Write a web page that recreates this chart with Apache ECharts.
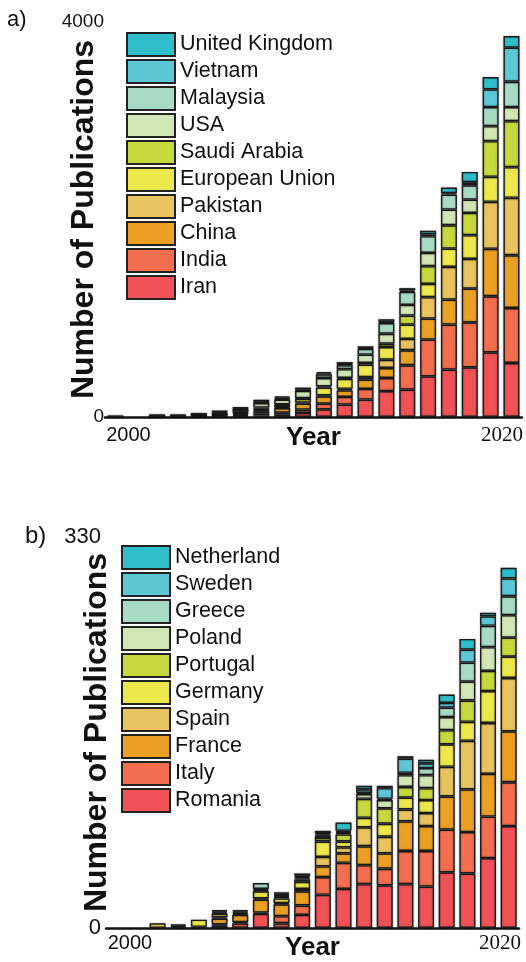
<!DOCTYPE html>
<html><head><meta charset="utf-8">
<script src="https://cdn.jsdelivr.net/npm/echarts@6/dist/echarts.min.js"></script>
<style>html,body{margin:0;padding:0;background:#fff}#c{width:526px;height:962px}</style>
</head><body><div id="c"></div>
<script>
// ---- categories ----
const years = [2001,2002,2003,2004,2005,2006,2007,2008,2009,2010,2011,2012,2013,2014,2015,2016,2017,2018,2019,2020];
const xTickLabels = [2000, 2020];

// ---- panel a) countries ----
const topNames = ['Iran','India','China','Pakistan','European Union','Saudi Arabia','USA','Malaysia','Vietnam','United Kingdom'];
const iran     = [3,0,4,5,7,10,10,17,24,41,78,125,176,263,277,412,480,503,655,547];
const india    = [0,0,4,3,5,7,10,17,20,34,57,78,108,132,247,372,456,456,568,557];
const china    = [3,0,4,4,7,7,14,24,47,61,74,68,95,101,152,213,253,341,480,534];
const pakistan = [0,0,0,0,2,3,7,10,10,10,10,14,24,84,115,216,331,301,476,581];
const eu       = [0,0,2,2,3,7,7,17,20,37,78,101,128,128,145,135,186,240,253,311];
const saudi    = [0,0,0,0,2,3,7,10,7,7,14,10,17,34,91,179,236,226,361,466];
const usa      = [4,0,4,4,5,14,27,47,47,74,84,88,84,101,108,135,159,135,152,142];
const malaysia = [0,0,2,2,3,7,10,17,10,7,37,41,57,108,132,169,152,145,193,257];
const vietnam  = [0,0,0,0,0,0,0,7,10,7,10,7,10,10,14,17,14,30,179,345];
const uk       = [0,0,0,0,0,3,3,3,14,20,14,24,17,30,24,37,57,105,125,118];
const topValues = [iran, india, china, pakistan, eu, saudi, usa, malaysia, vietnam, uk];
const topYTicks = [0, 4000];

// ---- panel b) countries ----
const bottomNames = ['Romania','Italy','France','Spain','Germany','Portugal','Poland','Greece','Sweden','Netherland'];
const romania    = [0,0,0,1,0,2,4,12,4,11,28,33,37,36,37,35,47,46,59,86];
const italy      = [0,0,0,0,0,1,1,1,6,8,15,22,16,14,28,30,36,35,35,37];
const france     = [0,0,0,1,1,5,6,11,10,12,9,8,16,13,25,21,28,36,36,43];
const spain      = [0,0,0,0,0,1,1,1,1,2,8,5,16,14,10,11,25,41,43,45];
const germany    = [0,0,4,1,6,3,1,6,4,6,13,5,8,11,10,11,19,16,27,18];
const portugal   = [0,0,0,0,0,1,1,1,1,2,3,6,16,13,9,10,12,18,17,16];
const poland     = [0,0,0,0,0,1,0,1,1,1,2,1,4,7,10,11,11,16,20,19];
const greece     = [0,0,0,0,0,1,1,5,1,1,1,1,1,1,2,6,8,16,18,16];
const sweden     = [0,0,0,0,0,0,0,0,1,1,1,1,3,9,12,4,4,11,8,15];
const netherland = [0,0,0,0,0,0,0,0,1,2,2,7,3,2,2,3,7,9,3,9];
const bottomValues = [romania, italy, france, spain, germany, portugal, poland, greece, sweden, netherland];
const bottomYTicks = [0, 330];

const palette = ['#F05256','#F26E4E','#EBA024','#E8C35E','#ECE74A','#C5D93C','#D2E6B5','#A8DBC5','#5DC8D5','#2EBFCB'];

const SANS = 'Liberation Sans, Arial, sans-serif';
const SERIF = 'Liberation Serif, Times New Roman, serif';

function labelAxis(grid, min, max, margin, nameGap) {
  return {
    type: 'value', gridIndex: grid, position: 'bottom', min: min, max: max,
    axisLine: { show: true, onZero: true, lineStyle: { color: '#111', width: 2.5 } },
    axisTick: { show: false }, splitLine: { show: false },
    axisLabel: {
      customValues: xTickLabels, margin: margin, color: '#111',
      formatter: v => (v === xTickLabels[0] ? '{a|' + v + '}' : '{b|' + v + '}'),
      rich: { a: { fontFamily: SANS, fontSize: 20, color: '#111' }, b: { fontFamily: SERIF, fontSize: 21, color: '#111' } }
    },
    name: 'Year', nameLocation: 'middle', nameGap: nameGap, nameMoveOverlap: false,
    nameTextStyle: { fontFamily: SANS, fontWeight: 'bold', fontSize: 26, color: '#111' }
  };
}
function catAxis(grid) {
  return { type: 'category', gridIndex: grid, position: 'top', data: years,
    axisLine: { show: false }, axisTick: { show: false }, axisLabel: { show: false }, splitLine: { show: false } };
}
function yAxis(grid, ticks, fontSize, margin, nameGap) {
  return {
    type: 'value', gridIndex: grid, min: ticks[0], max: ticks[1], interval: ticks[1] - ticks[0],
    axisLine: { show: false }, axisTick: { show: false }, splitLine: { show: false },
    axisLabel: { fontFamily: SANS, fontSize: fontSize, color: '#111', margin: margin, formatter: v => String(v) },
    name: 'Number of Publications', nameLocation: 'middle', nameRotate: 90, nameGap: nameGap, nameMoveOverlap: false,
    nameTextStyle: { fontFamily: SANS, fontWeight: 'bold', fontSize: 32, color: '#111' }
  };
}

const barStyle = c => ({ color: c, borderColor: '#1c1c1c', borderWidth: 1.4,
  shadowColor: 'rgba(0,0,0,0.3)', shadowBlur: 2 });

const series = [];
topValues.forEach((arr, i) => series.push({
  name: topNames[i], type: 'bar', stack: 'a', xAxisIndex: 0, yAxisIndex: 0, barWidth: 16,
  data: arr.map(v => (v === 0 ? null : v)),
  itemStyle: barStyle(palette[i])
}));
bottomValues.forEach((arr, i) => series.push({
  name: bottomNames[i], type: 'bar', stack: 'b', xAxisIndex: 2, yAxisIndex: 1, barWidth: 16,
  data: arr.map(v => (v === 0 ? null : v)),
  itemStyle: barStyle(palette[i])
}));

const legendBase = {
  orient: 'vertical', icon: 'rect', itemWidth: 48, itemHeight: 23, itemGap: 2, padding: 0,
  selectedMode: false,
  itemStyle: { borderColor: '#222', borderWidth: 2, shadowBlur: 0 },
  textStyle: { fontFamily: SANS, fontSize: 21.5, color: '#111', lineHeight: 23 }
};

const option = {
  animation: false,
  backgroundColor: '#fff',
  grid: [
    { left: 105, right: 2, top: 22, bottom: 545 },
    { left: 106, right: 7, top: 537, bottom: 31 }
  ],
  xAxis: [
    catAxis(0),
    labelAxis(0, 1998.748, 2021.065, 8, 8),
    catAxis(1),
    labelAxis(1, 1998.703, 2021.027, 5, 7)
  ],
  yAxis: [
    yAxis(0, topYTicks, 19, 1, 5),
    yAxis(1, bottomYTicks, 22, 5, -7)
  ],
  legend: [
    Object.assign({}, legendBase, { data: topNames.slice().reverse(), left: 126, top: 32 }),
    Object.assign({}, legendBase, { data: bottomNames.slice().reverse(), left: 121, top: 545 })
  ],
  graphic: [
    { type: 'text', left: 7, top: 9, style: { text: 'a)', fontFamily: SANS, fontSize: 22, fill: '#111' } },
    { type: 'text', left: 25, top: 524, style: { text: 'b)', fontFamily: SANS, fontSize: 24, fill: '#111' } }
  ],
  series: series
};

const chart = echarts.init(document.getElementById('c'), null, { renderer: 'canvas' });
chart.setOption(option);
</script>
</body></html>
